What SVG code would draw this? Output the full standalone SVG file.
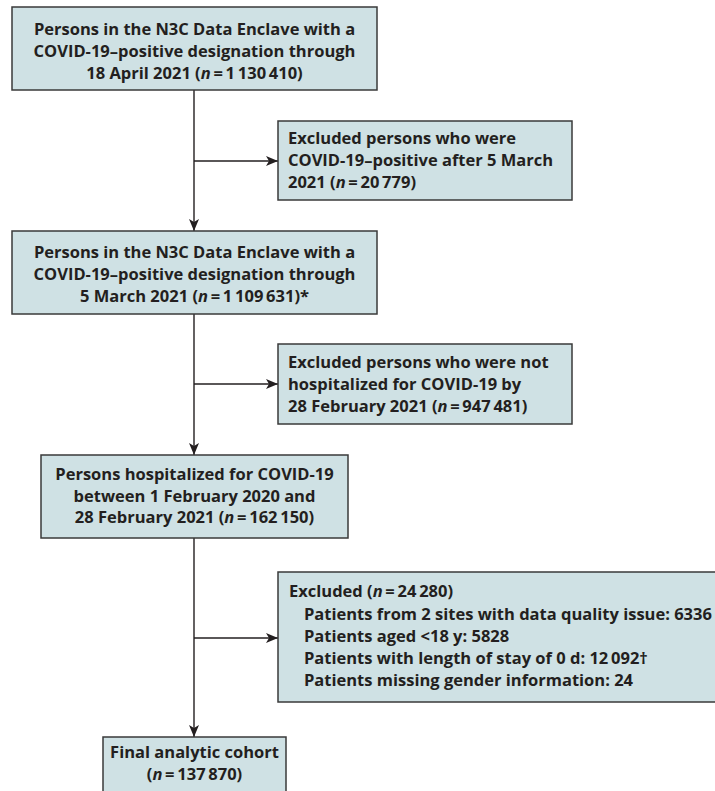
<svg xmlns="http://www.w3.org/2000/svg" width="715" height="791" viewBox="0 0 715 791">
<style>
.box{fill:#cfe1e4;stroke:#3a3a3a;stroke-width:1.5}
text{font-family:"Open Sans","Noto Sans","Liberation Sans",sans-serif;font-weight:700;font-size:16.5px;fill:#231f20}
.c{text-anchor:middle}
.conn{stroke:#231f20;stroke-width:1.4;fill:none}
</style>
<defs>
<marker id="ah" viewBox="0 0 12 10" refX="12" refY="5" markerWidth="12" markerHeight="10" markerUnits="userSpaceOnUse" orient="auto">
<path d="M0,0 L12,5 L0,10 L3,5 z" fill="#231f20"/>
</marker>
</defs>
<rect width="715" height="791" fill="#ffffff"/>
<g id="connectors">
<line class="conn" x1="194" y1="90" x2="194" y2="231" marker-end="url(#ah)"/>
<line class="conn" x1="194" y1="161" x2="278" y2="161" marker-end="url(#ah)"/>
<line class="conn" x1="194" y1="314" x2="194" y2="455" marker-end="url(#ah)"/>
<line class="conn" x1="194" y1="384" x2="278" y2="384" marker-end="url(#ah)"/>
<line class="conn" x1="194" y1="538" x2="194" y2="737" marker-end="url(#ah)"/>
<line class="conn" x1="194" y1="638" x2="278" y2="638" marker-end="url(#ah)"/>
</g>
<g id="node1">
<rect class="box" x="12" y="7" width="365" height="83"/>
<text class="c" x="194.5" y="35">Persons in the N3C Data Enclave with a</text>
<text class="c" x="194.5" y="57">COVID-19–positive designation through</text>
<text class="c" x="194.5" y="79">18 April 2021 (<tspan font-style="italic">n</tspan>&#8201;=&#8201;1&#8201;130&#8201;410)</text>
</g>
<g id="node2">
<rect class="box" x="278" y="121" width="294" height="79"/>
<text x="288" y="144">Excluded persons who were</text>
<text x="288" y="166">COVID-19–positive after 5 March</text>
<text x="288" y="188">2021 (<tspan font-style="italic">n</tspan>&#8201;=&#8201;20&#8201;779)</text>
</g>
<g id="node3">
<rect class="box" x="12" y="231" width="365" height="83"/>
<text class="c" x="194.5" y="258">Persons in the N3C Data Enclave with a</text>
<text class="c" x="194.5" y="280">COVID-19–positive designation through</text>
<text class="c" x="194.5" y="302">5 March 2021 (<tspan font-style="italic">n</tspan>&#8201;=&#8201;1&#8201;109&#8201;631)*</text>
</g>
<g id="node4">
<rect class="box" x="278" y="344" width="294" height="80"/>
<text x="288" y="368">Excluded persons who were not</text>
<text x="288" y="390">hospitalized for COVID-19 by</text>
<text x="288" y="412">28 February 2021 (<tspan font-style="italic">n</tspan>&#8201;=&#8201;947&#8201;481)</text>
</g>
<g id="node5">
<rect class="box" x="41" y="455" width="307" height="83"/>
<text class="c" x="194.5" y="480">Persons hospitalized for COVID-19</text>
<text class="c" x="194.5" y="502">between 1 February 2020 and</text>
<text class="c" x="194.5" y="523">28 February 2021 (<tspan font-style="italic">n</tspan>&#8201;=&#8201;162&#8201;150)</text>
</g>
<g id="node6">
<rect class="box" x="278" y="572" width="450" height="130"/>
<text x="289" y="597">Excluded (<tspan font-style="italic">n</tspan>&#8201;=&#8201;24&#8201;280)</text>
<text x="304" y="620">Patients from 2 sites with data quality issue: 6336</text>
<text x="304" y="642">Patients aged &lt;18 y: 5828</text>
<text x="304" y="664">Patients with length of stay of 0 d: 12&#8201;092†</text>
<text x="304" y="686">Patients missing gender information: 24</text>
</g>
<g id="node7">
<rect class="box" x="103" y="737" width="183" height="70"/>
<text class="c" x="194.5" y="758">Final analytic cohort</text>
<text class="c" x="194.5" y="780">(<tspan font-style="italic">n</tspan>&#8201;=&#8201;137&#8201;870)</text>
</g>
</svg>
